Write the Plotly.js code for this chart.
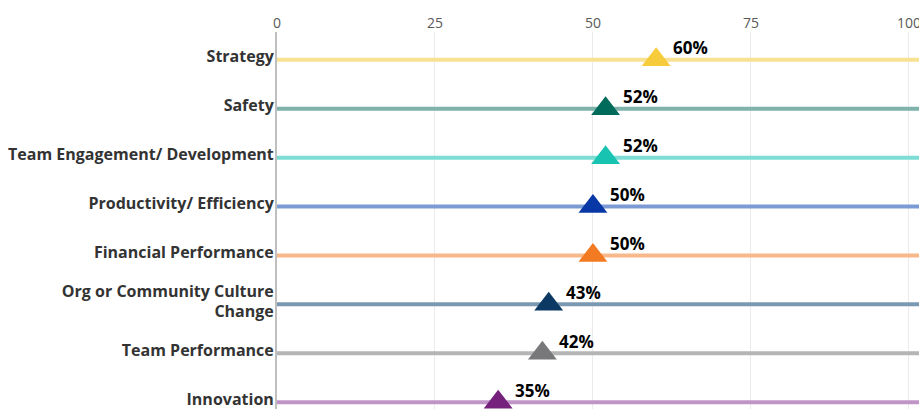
<!DOCTYPE html>
<html>
<head>
<meta charset="utf-8">
<script src="https://cdn.plot.ly/plotly-3.0.1.min.js"></script>
<style>
  html, body { margin: 0; padding: 0; background: #fff; }
  #chart { width: 919px; height: 409px; }
</style>
</head>
<body>
<div id="chart"></div>
<script>
// Share of respondents naming each focus area
const categories = [
  "Strategy",
  "Safety",
  "Team Engagement/ Development",
  "Productivity/ Efficiency",
  "Financial Performance",
  "Org or Community Culture<br>Change",
  "Team Performance",
  "Innovation"
];
const values = [60, 52, 52, 50, 50, 43, 42, 35];
const valueLabels = ["60%", "52%", "52%", "50%", "50%", "43%", "42%", "35%"];
const lineColors = ["#F8E193", "#7FB2AB", "#7DDDD4", "#7C9BD5", "#F7B88A", "#7A98B1", "#B5B5B5", "#C194C8"];
const markerColors = ["#F6CB3C", "#006B5B", "#19C3B1", "#0838A6", "#F27A22", "#0B3963", "#78787A", "#74207C"];
const xTicks = [0, 25, 50, 75, 100];

const X_MAX = 101.6;
const idx = categories.map((_, i) => i);

const traces = [];
// full-width track line per category
categories.forEach((c, i) => {
  traces.push({
    type: "scatter",
    mode: "lines",
    x: [0, X_MAX],
    y: [i, i],
    line: { color: lineColors[i], width: 4 },
    hoverinfo: "skip",
    showlegend: false
  });
});
// value markers
traces.push({
  type: "scatter",
  mode: "markers",
  x: values,
  y: idx,
  marker: { symbol: "triangle-up", size: 25, color: markerColors, line: { width: 0 } },
  showlegend: false,
  hoverinfo: "x+y"
});

const annotations = values.map((v, i) => ({
  x: v, y: i, xref: "x", yref: "y",
  text: "<b>" + valueLabels[i] + "</b>",
  showarrow: false,
  xanchor: "left", yanchor: "middle",
  xshift: 15, yshift: 12,
  font: { family: "Open Sans, sans-serif", size: 17, color: "#000" }
}));

const layout = {
  width: 919, height: 409,
  margin: { l: 277, r: 0, t: 32, b: 0 },
  paper_bgcolor: "#fff", plot_bgcolor: "#fff",
  showlegend: false,
  xaxis: {
    side: "top",
    range: [0, X_MAX],
    tickvals: xTicks,
    ticktext: xTicks.map(String),
    tickfont: { family: "Open Sans, sans-serif", size: 14, color: "#595959" },
    ticklabeloverflow: "allow",
    showgrid: true, gridcolor: "#EBEBEB", gridwidth: 1,
    zeroline: false, showline: false, ticks: "", ticklen: 0
  },
  yaxis: {
    range: [7.14, -0.57],
    tickvals: idx,
    ticktext: categories.map(c => "<b>" + c + "</b>"),
    tickfont: { family: "Open Sans, sans-serif", size: 16, color: "#333" },
    ticklabeloverflow: "allow",
    ticklabelstandoff: -2,
    ticklabelshift: 3,
    showgrid: false, zeroline: false,
    showline: true, linecolor: "#BFBFBF", linewidth: 2,
    ticks: "", ticklen: 0, automargin: false
  },
  annotations: annotations
};

Plotly.newPlot("chart", traces, layout, { displayModeBar: false, staticPlot: true });
</script>
</body>
</html>
